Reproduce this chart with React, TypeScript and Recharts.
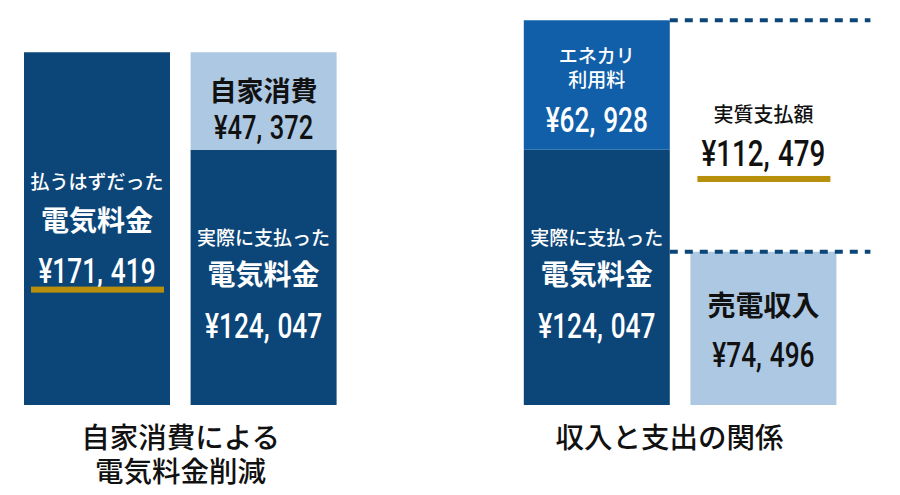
import { BarChart, Bar, XAxis, YAxis, LabelList } from "recharts";

// categories: the left pair, an empty spacer, the right pair
const categories = ["払うはずだった", "実際に支払った", "", "収入と支出", "売電"];

// yen values (0 = nothing in that slot)
const paidBill = [171419, 124047, 0, 124047, 0];
const selfConsumption = [0, 47372, 0, 0, 0];
const enekariFee = [0, 0, 0, 62928, 0];
const saleIncome = [0, 0, 0, 0, 74496];
const netPayment = [0, 0, 0, 0, 112479];

// texts inside the bars
const paidCaptions = [
  ["払うはずだった", "電気料金"],
  ["実際に支払った", "電気料金"],
  null,
  ["実際に支払った", "電気料金"],
  null,
];
const selfCaption = "自家消費";
const feeCaption = ["エネカリ", "利用料"];
const saleCaption = "売電収入";
const netCaption = "実質支払額";

// titles under each group
const groupTitles = [["自家消費による", "電気料金削減"], null, null, ["収入と支出の関係"], null];

const data = categories.map((name, i) => ({
  name,
  paid: paidBill[i],
  self: selfConsumption[i],
  fee: enekariFee[i],
  sale: saleIncome[i],
  net: netPayment[i],
}));

const W = 900;
const H = 495;
const MARGIN = { top: 14, right: 53, bottom: 0, left: 14 };
const BAND = (W - MARGIN.left - MARGIN.right) / categories.length;
const BAR_W = 146;

const NAVY = "#0c4679";
const BLUE = "#115fa8";
const LIGHT = "#adc8e2";
const GOLD = "#b88f0a";

const JP = "'Noto Sans CJK JP', 'Noto Sans', sans-serif";
const NUM = "Roboto, 'DejaVu Sans', sans-serif";

type Line = { text: string; size: number; weight?: number; dy: number } | { value: number; size: number; dy: number };

// condensed yen figure, with the wide gap after the comma seen in the original
function Yen({ x, y, value, size, color }: { x: number; y: number; value: number; size: number; color: string }) {
  const parts = ("¥" + value.toLocaleString("ja-JP")).split(",");
  return (
    <text
      transform={`translate(${x},${y}) scale(0.75,1)`}
      textAnchor="middle"
      dominantBaseline="central"
      fill={color}
      fontFamily={NUM}
      fontSize={size}
      fontWeight={500}
    >
      {parts.map((s, k) => (
        <tspan key={k} dx={k > 0 ? size * 0.3 : 0}>
          {s + (k < parts.length - 1 ? "," : "")}
        </tspan>
      ))}
    </text>
  );
}

function Lines({ cx, cy, lines, color, underline }: { cx: number; cy: number; lines: Line[]; color: string; underline?: number }) {
  return (
    <g>
      {lines.map((l, k) =>
        "value" in l ? (
          <Yen key={k} x={cx} y={cy + l.dy} value={l.value} size={l.size} color={color} />
        ) : (
          <text
            key={k}
            x={cx}
            y={cy + l.dy}
            textAnchor="middle"
            dominantBaseline="central"
            fill={color}
            fontFamily={JP}
            fontSize={l.size}
            fontWeight={l.weight ?? 500}
          >
            {l.text}
          </text>
        )
      )}
      {underline !== undefined && <rect x={cx - 66} y={cy + underline - 3} width={133} height={6} fill={GOLD} />}
    </g>
  );
}

function makeLabel(kind: string) {
  return (p: any) => {
    const { x, y, width, height, value } = p;
    if (!value || !height) return null;
    const cx = Number(x) + Number(width) / 2;
    const cy = Number(y) + Number(height) / 2;
    const v = Number(value);
    // which category this bar sits in, from its position on the band axis
    const index = Math.floor((cx - MARGIN.left) / BAND);
    if (kind === "paid") {
      const cap = paidCaptions[index];
      if (!cap) return null;
      if (index === 0) {
        return (
          <Lines
            cx={cx}
            cy={cy}
            color="#fff"
            underline={61}
            lines={[
              { text: cap[0], size: 19, dy: -48 },
              { text: cap[1], size: 28, weight: 700, dy: -10 },
              { value: v, size: 35, dy: 42 },
            ]}
          />
        );
      }
      return (
        <Lines
          cx={cx}
          cy={cy}
          color="#fff"
          lines={[
            { text: cap[0], size: 19, dy: -41 },
            { text: cap[1], size: 28, weight: 700, dy: -4 },
            { value: v, size: 35, dy: 48 },
          ]}
        />
      );
    }
    if (kind === "self") {
      return (
        <Lines
          cx={cx}
          cy={cy}
          color="#111"
          lines={[{ text: selfCaption, size: 27, weight: 700, dy: -11 }, { value: v, size: 34, dy: 26 }]}
        />
      );
    }
    if (kind === "fee") {
      return (
        <Lines
          cx={cx}
          cy={cy}
          color="#fff"
          lines={[
            { text: feeCaption[0], size: 19, dy: -30 },
            { text: feeCaption[1], size: 19, dy: -6 },
            { value: v, size: 35, dy: 35 },
          ]}
        />
      );
    }
    if (kind === "sale") {
      return (
        <Lines
          cx={cx}
          cy={cy}
          color="#111"
          lines={[{ text: saleCaption, size: 28, weight: 700, dy: -24 }, { value: v, size: 35, dy: 26 }]}
        />
      );
    }
    return (
      <Lines
        cx={cx}
        cy={cy}
        color="#111"
        underline={43}
        lines={[{ text: netCaption, size: 20, dy: -22 }, { value: v, size: 37, dy: 18 }]}
      />
    );
  };
}

// transparent bar that only draws the dashed top / bottom guides
function NetShape(p: any) {
  const { x, y, width, height } = p;
  if (!height) return null;
  const x1 = x - (BAND - BAR_W);
  const x2 = x + width + 34;
  return (
    <g stroke={NAVY} strokeWidth={4} strokeDasharray="8 7">
      <line x1={x1} x2={x2} y1={y} y2={y} />
      <line x1={x1} x2={x2} y1={y + height} y2={y + height} />
    </g>
  );
}

function GroupTitle(p: any) {
  const { x, y, payload } = p;
  const lines = groupTitles[payload.index];
  if (!lines) return null;
  const shift = lines.length === 1 ? -11 : 0;
  return (
    <g>
      {lines.map((t, k) => (
        <text
          key={k}
          x={x + BAND / 2 + shift}
          y={y + 22 + k * 34}
          textAnchor="middle"
          dominantBaseline="central"
          fontFamily={JP}
          fontSize={28.5}
          fontWeight={500}
          fill="#111"
        >
          {t}
        </text>
      ))}
    </g>
  );
}

export default function App() {
  return (
    <div style={{ width: W, height: H, background: "#fff" }}>
      <style>{"body{margin:0}"}</style>
      <BarChart width={W} height={H} data={data} margin={MARGIN} barSize={BAR_W}>
        <XAxis dataKey="name" interval={0} axisLine={false} tickLine={false} height={90} tick={<GroupTitle />} />
        <YAxis hide domain={[0, 190000]} />
        <Bar dataKey="paid" stackId="a" fill={NAVY} isAnimationActive={false}>
          <LabelList dataKey="paid" content={makeLabel("paid")} />
        </Bar>
        <Bar dataKey="self" stackId="a" fill={LIGHT} isAnimationActive={false}>
          <LabelList dataKey="self" content={makeLabel("self")} />
        </Bar>
        <Bar dataKey="fee" stackId="a" fill={BLUE} isAnimationActive={false}>
          <LabelList dataKey="fee" content={makeLabel("fee")} />
        </Bar>
        <Bar dataKey="sale" stackId="a" fill={LIGHT} isAnimationActive={false}>
          <LabelList dataKey="sale" content={makeLabel("sale")} />
        </Bar>
        <Bar dataKey="net" stackId="a" fill="none" shape={<NetShape />} isAnimationActive={false}>
          <LabelList dataKey="net" content={makeLabel("net")} />
        </Bar>
      </BarChart>
    </div>
  );
}
